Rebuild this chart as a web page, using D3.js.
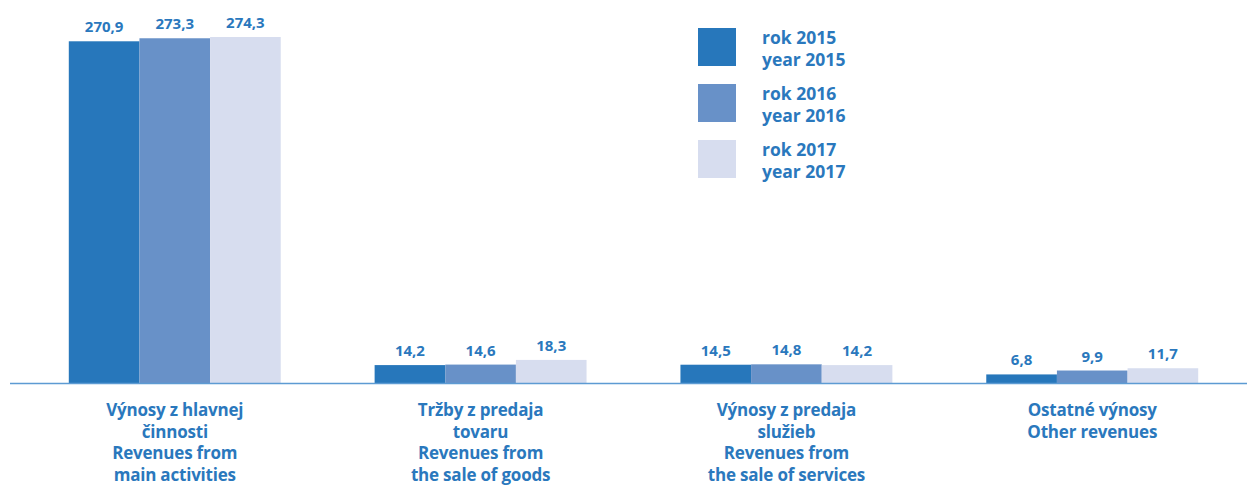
<!DOCTYPE html>
<html>
<head>
<meta charset="utf-8">
<script src="https://cdn.jsdelivr.net/npm/d3@7"></script>
<style>
  body { margin: 0; background: #fff; }
  text { font-family: "Open Sans", Lato, sans-serif; font-weight: 700; fill: #2a78bd; }
</style>
</head>
<body>
<div id="chart"></div>
<script>
// data
var categories = [
  ["Výnosy z hlavnej", "činnosti", "Revenues from", "main activities"],
  ["Tržby z predaja", "tovaru", "Revenues from", "the sale of goods"],
  ["Výnosy z predaja", "služieb", "Revenues from", "the sale of services"],
  ["Ostatné výnosy", "Other revenues"]
];
var years = ["2015", "2016", "2017"];
var values2015 = [270.9, 14.2, 14.5, 6.8];
var values2016 = [273.3, 14.6, 14.8, 9.9];
var values2017 = [274.3, 18.3, 14.2, 11.7];
var legendLabels = [["rok 2015", "year 2015"], ["rok 2016", "year 2016"], ["rok 2017", "year 2017"]];
var colors = ["#2777bb", "#6891c8", "#d7ddef"];

var series = [values2015, values2016, values2017];

var width = 1247, height = 485;
var baseY = 383, topY = 37;

var svg = d3.select("#chart")
  .append("svg")
    .attr("width", width)
    .attr("height", height);

// x scales
var x0 = d3.scaleBand()
  .domain(d3.range(categories.length))
  .range([22, 1245])
  .paddingInner(0.307)
  .paddingOuter(0.153);

var x1 = d3.scaleBand()
  .domain(years)
  .range([0, x0.bandwidth()]);

var y = d3.scaleLinear()
  .domain([0, 274.3])
  .range([baseY, topY]);

// bars
var groups = svg.selectAll("g.grp")
  .data(categories)
  .enter()
  .append("g")
    .attr("class", "grp")
    .attr("transform", function(d, i) { return "translate(" + x0(i) + ",0)"; });

groups.selectAll("rect")
  .data(function(d, i) { return years.map(function(yr, j) { return {yr: yr, j: j, v: series[j][i]}; }); })
  .enter()
  .append("rect")
    .attr("x", function(d) { return x1(d.yr); })
    .attr("y", function(d) { return y(d.v); })
    .attr("width", x1.bandwidth())
    .attr("height", function(d) { return baseY - y(d.v); })
    .attr("fill", function(d) { return colors[d.j]; });

groups.selectAll("text.val")
  .data(function(d, i) { return years.map(function(yr, j) { return {yr: yr, j: j, v: series[j][i]}; }); })
  .enter()
  .append("text")
    .attr("class", "val")
    .attr("x", function(d) { return x1(d.yr) + x1.bandwidth() / 2; })
    .attr("y", function(d) { return y(d.v) - 9; })
    .attr("text-anchor", "middle")
    .style("font-size", "15px")
    .text(function(d) { return d3.format(".1f")(d.v).replace(".", ","); });

// axis line
svg.append("line")
  .attr("x1", 10).attr("x2", 1247)
  .attr("y1", baseY + 0.5).attr("y2", baseY + 0.5)
  .attr("stroke", "#5d9bd3")
  .attr("stroke-width", 1.5);

// category labels
groups.append("text")
  .attr("x", x0.bandwidth() / 2)
  .attr("y", 416)
  .attr("text-anchor", "middle")
  .style("font-size", "17px")
  .style("letter-spacing", "-0.2px")
  .selectAll("tspan")
  .data(function(d) { return d; })
  .enter()
  .append("tspan")
    .attr("x", x0.bandwidth() / 2)
    .attr("dy", function(d, i) { return i === 0 ? 0 : 21.5; })
    .text(function(d) { return d; });

// legend
var legend = svg.selectAll("g.leg")
  .data(legendLabels)
  .enter()
  .append("g")
    .attr("class", "leg")
    .attr("transform", function(d, i) { return "translate(698," + (28 + i * 56) + ")"; });

legend.append("rect")
  .attr("width", 38)
  .attr("height", 38)
  .attr("fill", function(d, i) { return colors[i]; });

legend.append("text")
  .attr("x", 64)
  .attr("y", 16)
  .style("font-size", "17.5px")
  .selectAll("tspan")
  .data(function(d) { return d; })
  .enter()
  .append("tspan")
    .attr("x", 64)
    .attr("dy", function(d, i) { return i === 0 ? 0 : 22; })
    .text(function(d) { return d; });
</script>
</body>
</html>
